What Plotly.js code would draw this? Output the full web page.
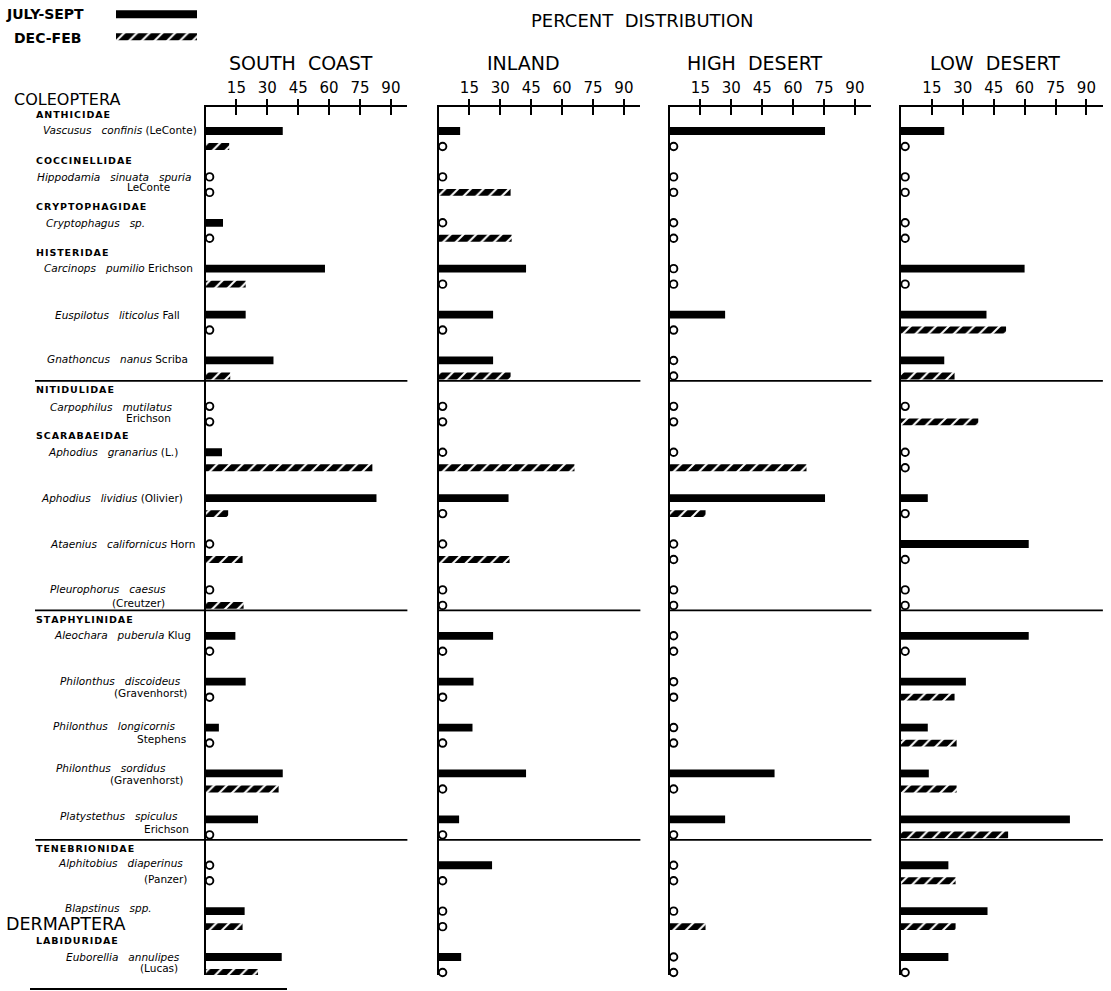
<!DOCTYPE html>
<html><head><meta charset="utf-8">
<script src="https://cdn.plot.ly/plotly-3.0.1.min.js"></script>
<style>html,body{margin:0;padding:0;background:#fff}</style>
</head><body><div id="chart" style="width:1111px;height:991px"></div>
<script>
// ---------------- DATA ----------------
const regions = ['SOUTH COAST', 'INLAND', 'HIGH DESERT', 'LOW DESERT'];
const seasons = ['JULY-SEPT', 'DEC-FEB'];
const tickValues = [15, 30, 45, 60, 75, 90];
const orderNames = ['COLEOPTERA', 'DERMAPTERA'];
const orderFirstSpecies = [0, 18];
const familyNames = ['ANTHICIDAE', 'COCCINELLIDAE', 'CRYPTOPHAGIDAE', 'HISTERIDAE', 'NITIDULIDAE',
  'SCARABAEIDAE', 'STAPHYLINIDAE', 'TENEBRIONIDAE', 'LABIDURIDAE'];
const familyFirstSpecies = [0, 1, 2, 3, 6, 7, 11, 16, 18];
const speciesNames = ['Vascusus confinis', 'Hippodamia sinuata spuria', 'Cryptophagus sp.', 'Carcinops pumilio',
  'Euspilotus liticolus', 'Gnathoncus nanus', 'Carpophilus mutilatus', 'Aphodius granarius', 'Aphodius lividius',
  'Ataenius californicus', 'Pleurophorus caesus', 'Aleochara puberula', 'Philonthus discoideus',
  'Philonthus longicornis', 'Philonthus sordidus', 'Platystethus spiculus', 'Alphitobius diaperinus',
  'Blapstinus spp.', 'Euborellia annulipes'];
const speciesAuthors = ['(LeConte)', 'LeConte', '', 'Erichson', 'Fall', 'Scriba', 'Erichson', '(L.)', '(Olivier)',
  'Horn', '(Creutzer)', 'Klug', '(Gravenhorst)', 'Stephens', '(Gravenhorst)', 'Erichson', '(Panzer)', '', '(Lucas)'];
// percent distribution, July-Sept and Dec-Feb, per region
const southCoastJuly = [37.5, 0, 8.5, 58, 19.5, 33, 0, 8, 83, 0, 0, 14.5, 19.5, 6.5, 37.5, 25.5, 0, 19, 37];
const southCoastDec  = [11.5, 0, 0, 19.5, 0, 12, 0, 81, 11, 18, 18.5, 0, 0, 0, 35.5, 0, 0, 18, 25.5];
const inlandJuly     = [10.5, 0, 0, 42.5, 26.5, 26.5, 0, 0, 34, 0, 0, 26.5, 17, 16.5, 42.5, 10, 26, 0, 11];
const inlandDec      = [0, 35, 35.5, 0, 0, 35, 0, 66, 0, 34.5, 0, 0, 0, 0, 0, 0, 0, 0, 0];
const highDesertJuly = [75.5, 0, 0, 0, 27, 0, 0, 0, 75.5, 0, 0, 0, 0, 0, 51, 27, 0, 0, 0];
const highDesertDec  = [0, 0, 0, 0, 0, 0, 0, 66.5, 17.5, 0, 0, 0, 0, 0, 0, 0, 0, 17.5, 0];
const lowDesertJuly  = [21, 0, 0, 60, 41.5, 21, 0, 0, 13, 62, 0, 62, 31.5, 13, 13.5, 82, 23, 42, 23];
const lowDesertDec   = [0, 0, 0, 0, 51, 26, 37.5, 0, 0, 0, 0, 0, 26, 27, 27, 52, 26.5, 26.5, 0];

// ---------------- LAYOUT CONSTANTS ----------------
const W = 1111, H = 991;
const ROW_PX = 45.89, FIRST_ROW_PX = 131;
const DEC_SHIFT = 15.5 / ROW_PX;
const plotTopPx = 106.7, plotBottomPx = 975;
const panelLeftPx = [205.5, 438.5, 669.5, 901];
const PX_PER_UNIT = 2.06, X_MAX = 98;
const ZERO_MARK_X = 2;
const titleCenterPx = [301, 523, 755, 995];
const orderLabelPx = [[12, 100], [4, 924]];
const twoLine = [false, true, false, false, false, false, true, false, false, false, true, false, true, true, true, true, true, false, true];
const labelRightPx = [199, 193, 147, 195, 182, 190, 175, 180, 185, 197, 168, 193, 183, 177, 168, 180, 185, 154, 182];
const authorRightPx = [0, 172, 0, 0, 0, 0, 173, 0, 0, 0, 167, 0, 189, 188, 185, 191, 189, 0, 180];
const line1DyPx = [-1, 0, 0, -1, 0, -1, 1, 0, 0, 0, -1, -1, -1, -2, -5, -3, -2, -3, 0];
const line2DyPx = [0, 10, 0, 0, 0, 0, 12, 0, 0, 0, 13, 0, 11, 11, 7, 10, 14, 0, 11];
const FONT = 'DejaVu Sans';
const SPECIES_FONT = 10.5;

const julyVals = [southCoastJuly, inlandJuly, highDesertJuly, lowDesertJuly];
const decVals = [southCoastDec, inlandDec, highDesertDec, lowDesertDec];
const idx = speciesNames.map((_, i) => i);
const yTop = (plotTopPx - FIRST_ROW_PX) / ROW_PX;
const yBottom = (plotBottomPx - FIRST_ROW_PX) / ROW_PX;
const px2y = px => 1 - px / H;
const nb = s => s.replace(/ /g, '&nbsp;&nbsp;');
const nb3 = s => s.replace(/ /g, '&nbsp;&nbsp;&nbsp;');

const traces = [];
const layout = {
  width: W, height: H, margin: {l: 0, r: 0, t: 0, b: 0},
  paper_bgcolor: '#fff', plot_bgcolor: 'rgba(0,0,0,0)',
  showlegend: false, barmode: 'overlay', hovermode: false,
  font: {family: FONT, color: '#000'},
  annotations: [], shapes: []
};

const hatch = {shape: '/', fgcolor: '#fff', bgcolor: '#000', size: 9, solidity: 0.22, fillmode: 'replace'};

for (let p = 0; p < 4; p++) {
  const suf = p === 0 ? '' : String(p + 1);
  const dom = [panelLeftPx[p] / W, (panelLeftPx[p] + X_MAX * PX_PER_UNIT) / W];
  layout['xaxis' + suf] = {
    domain: dom, range: [0, X_MAX], anchor: 'y' + suf, side: 'top',
    tickvals: tickValues, ticks: 'inside', ticklen: 8, tickwidth: 2, tickcolor: '#000',
    showticklabels: false, showline: true, linewidth: 2, linecolor: '#000',
    showgrid: false, zeroline: false, fixedrange: true
  };
  layout['xaxis' + (p + 5)] = {
    overlaying: 'x' + suf, range: [0, X_MAX], anchor: 'y' + suf, side: 'top',
    tickvals: tickValues, ticktext: tickValues.map(String), ticks: 'outside', ticklen: 7, tickwidth: 2, tickcolor: '#000',
    showticklabels: true, tickfont: {family: FONT, size: 15, color: '#000'},
    showline: false, showgrid: false, zeroline: false, fixedrange: true
  };
  layout['yaxis' + suf] = {
    domain: [px2y(plotBottomPx), px2y(plotTopPx)], range: [yBottom, yTop], anchor: 'x' + suf,
    showline: true, linewidth: 2, linecolor: '#000', showticklabels: false, ticks: '',
    showgrid: false, zeroline: false, fixedrange: true
  };
  const xa = 'x' + suf, ya = 'y' + suf;
  traces.push({type: 'scatter', x: [], y: [], xaxis: 'x' + (p + 5), yaxis: ya, hoverinfo: 'skip'});
  traces.push({
    type: 'bar', orientation: 'h', name: seasons[0], x: julyVals[p], y: idx, width: 0.17,
    marker: {color: '#000', line: {width: 0}}, xaxis: xa, yaxis: ya
  });
  traces.push({
    type: 'bar', orientation: 'h', name: seasons[1], x: decVals[p], y: idx.map(i => i + DEC_SHIFT), width: 0.15,
    marker: {color: '#000', line: {width: 0}, pattern: hatch}, xaxis: xa, yaxis: ya
  });
  // zero markers
  const zx = [], zy = [];
  julyVals[p].forEach((v, i) => { if (v === 0) { zx.push(ZERO_MARK_X); zy.push(i); } });
  decVals[p].forEach((v, i) => { if (v === 0) { zx.push(ZERO_MARK_X); zy.push(i + DEC_SHIFT); } });
  traces.push({
    type: 'scatter', mode: 'markers', x: zx, y: zy, xaxis: xa, yaxis: ya, cliponaxis: false,
    marker: {symbol: 'circle-open', size: 7.5, color: '#000', line: {width: 1.9, color: '#000'}}
  });
  // panel title
  layout.annotations.push({
    xref: 'paper', yref: 'paper', x: titleCenterPx[p] / W, y: px2y(63), xanchor: 'center', yanchor: 'middle',
    text: nb(regions[p]), showarrow: false, font: {family: FONT, size: 19, color: '#000'}
  });
  // dividers
  [5, 10, 15].forEach(i => {
    const yv = i + 20.5 / ROW_PX;
    layout.shapes.push({
      type: 'line', xref: 'paper', yref: ya, x0: (p === 0 ? 35 : panelLeftPx[p]) / W, x1: dom[1], y0: yv, y1: yv,
      line: {color: '#000', width: 1.8}
    });
  });
}

// legend swatches subplot
layout.xaxis9 = {domain: [116 / W, 197 / W], range: [0, 1], anchor: 'y5', visible: false, fixedrange: true};
layout.yaxis5 = {domain: [px2y(48), px2y(3)], anchor: 'x9', type: 'category', autorange: 'reversed', visible: false, fixedrange: true};
traces.push({type: 'bar', orientation: 'h', x: [1], y: [seasons[0]], width: 0.36, xaxis: 'x9', yaxis: 'y5',
  marker: {color: '#000', line: {width: 0}}});
traces.push({type: 'bar', orientation: 'h', x: [1], y: [seasons[1]], width: 0.31, xaxis: 'x9', yaxis: 'y5',
  marker: {color: '#000', line: {width: 0}, pattern: hatch}});
layout.annotations.push({xref: 'paper', yref: 'paper', x: 4 / W, y: px2y(14), xanchor: 'left', yanchor: 'middle',
  text: '<b>' + seasons[0] + '</b>', showarrow: false, font: {family: FONT, size: 14, color: '#000'}});
layout.annotations.push({xref: 'paper', yref: 'paper', x: 12 / W, y: px2y(38), xanchor: 'left', yanchor: 'middle',
  text: '<b>' + seasons[1] + '</b>', showarrow: false, font: {family: FONT, size: 14, color: '#000'}});

// overall title
layout.annotations.push({xref: 'paper', yref: 'paper', x: 642 / W, y: px2y(20), xanchor: 'center', yanchor: 'middle',
  text: nb('PERCENT DISTRIBUTION'), showarrow: false, font: {family: FONT, size: 18, color: '#000'}});

// order labels
orderNames.forEach((o, k) => {
  layout.annotations.push({xref: 'paper', yref: 'paper', x: orderLabelPx[k][0] / W, y: px2y(orderLabelPx[k][1]),
    xanchor: 'left', yanchor: 'middle', text: o, showarrow: false,
    font: {family: FONT, size: k === 0 ? 16 : 17.5, color: '#000'}});
});
// family labels
familyNames.forEach((f, k) => {
  layout.annotations.push({xref: 'paper', yref: 'y', x: 34 / W, y: familyFirstSpecies[k] - 16.5 / ROW_PX,
    xanchor: 'left', yanchor: 'middle', text: '<b>' + f.split('').join('&#8202;') + '</b>', showarrow: false,
    font: {family: FONT, size: 9.5, color: '#000'}});
});
// species labels
speciesNames.forEach((s, i) => {
  const it = '<i>' + nb3(s) + '</i>';
  if (twoLine[i]) {
    layout.annotations.push({xref: 'paper', yref: 'y', x: labelRightPx[i] / W, y: i + line1DyPx[i] / ROW_PX,
      xanchor: 'right', yanchor: 'middle', text: it, showarrow: false, font: {family: FONT, size: SPECIES_FONT, color: '#000'}});
    layout.annotations.push({xref: 'paper', yref: 'y', x: authorRightPx[i] / W, y: i + line2DyPx[i] / ROW_PX,
      xanchor: 'right', yanchor: 'middle', text: speciesAuthors[i], showarrow: false, font: {family: FONT, size: SPECIES_FONT, color: '#000'}});
  } else {
    const txt = speciesAuthors[i] ? it + '&nbsp;' + speciesAuthors[i] : it;
    layout.annotations.push({xref: 'paper', yref: 'y', x: labelRightPx[i] / W, y: i + line1DyPx[i] / ROW_PX,
      xanchor: 'right', yanchor: 'middle', text: txt, showarrow: false, font: {family: FONT, size: SPECIES_FONT, color: '#000'}});
  }
});
// bottom rule
layout.shapes.push({type: 'line', xref: 'paper', yref: 'paper', x0: 30 / W, x1: 287 / W, y0: px2y(989), y1: px2y(989),
  line: {color: '#000', width: 1.8}});

Plotly.newPlot('chart', traces, layout, {displayModeBar: false, staticPlot: true});
</script>
</body></html>
